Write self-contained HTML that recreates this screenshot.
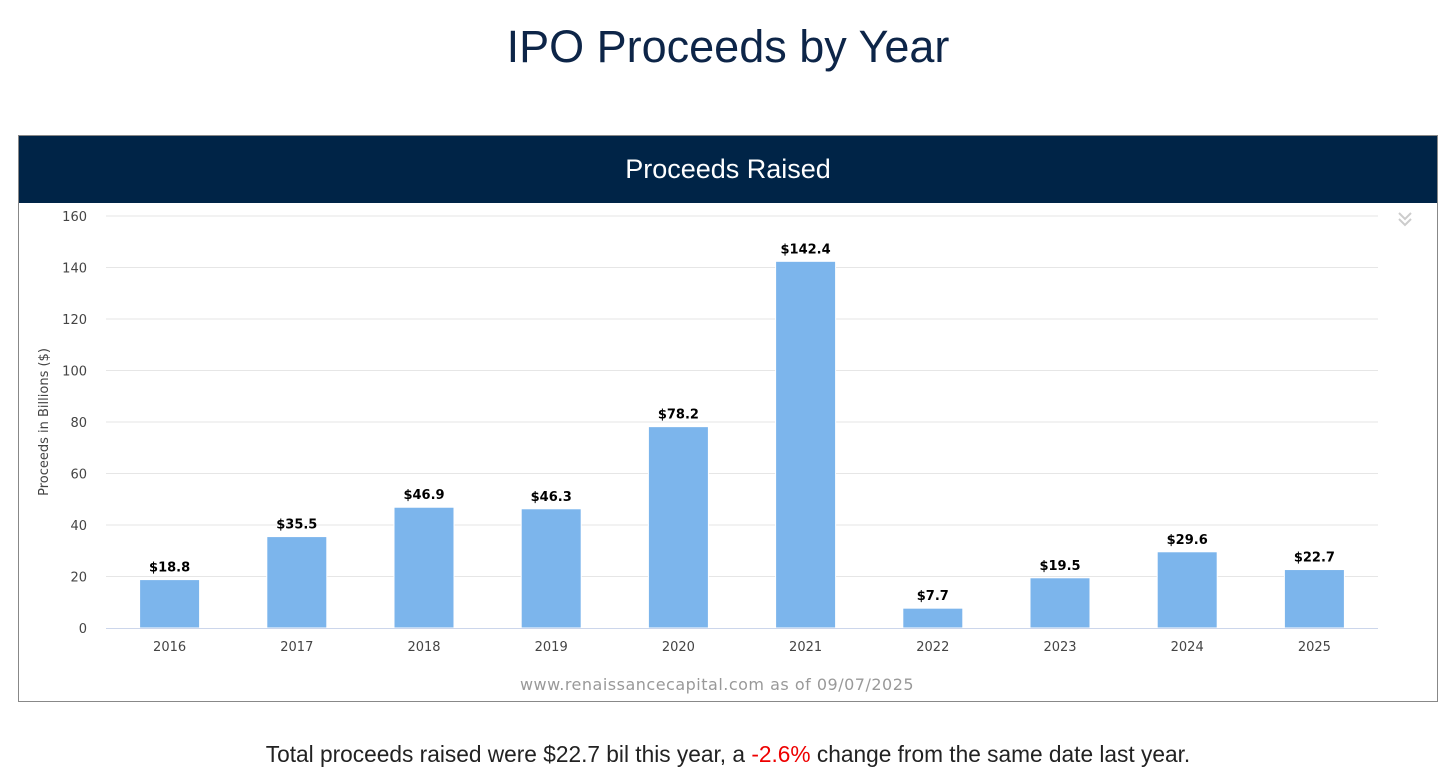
<!DOCTYPE html>
<html><head><meta charset="utf-8"><style>
body{margin:0;background:#fff;width:1456px;height:784px;overflow:hidden;font-family:"Liberation Sans","DejaVu Sans",sans-serif}
#title{position:absolute;top:21px;left:0;width:1456px;text-align:center;font-size:45px;color:#0d2548}
#box{position:absolute;left:18px;top:135px;width:1420px;height:567px;border:1px solid #888;box-sizing:border-box}
#hdr{position:absolute;left:0;top:0;width:100%;height:67px;background:#002447;color:#fff;font-size:27px;text-align:center;line-height:67px}
#foot{position:absolute;top:741px;left:0;width:1456px;text-align:center;font-size:22.7px;color:#222}
</style></head><body>
<div id="title">IPO Proceeds by Year</div>
<div id="box">
<div id="hdr">Proceeds Raised</div>
</div>
<svg id="chart" width="1456" height="784" style="position:absolute;left:0;top:0;font-family:'DejaVu Sans',sans-serif"></svg>
<div id="foot">Total proceeds raised were $22.7 bil this year, a <span style="color:#e00">-2.6%</span> change from the same date last year.</div>
<script>
const categories=["2016","2017","2018","2019","2020","2021","2022","2023","2024","2025"];
const values=[18.8,35.5,46.9,46.3,78.2,142.4,7.7,19.5,29.6,22.7];
const valueLabels=["$18.8","$35.5","$46.9","$46.3","$78.2","$142.4","$7.7","$19.5","$29.6","$22.7"];
const yTicks=[0,20,40,60,80,100,120,140,160];
const NS="http://www.w3.org/2000/svg";
const svg=document.getElementById('chart');
const X0=106,X1=1378,Y0=628,Y1=216,YMAX=160;
const bw=(X1-X0)/categories.length;
const y=v=>Y0-(v/YMAX)*(Y0-Y1);
const xc=i=>X0+bw*(i+0.5);
function mk(tag,attrs,text){const e=document.createElementNS(NS,tag);for(const k in attrs)e.setAttribute(k,attrs[k]);if(text!==undefined)e.textContent=text;svg.appendChild(e);return e;}
yTicks.forEach(t=>{
 if(t>0){const g=mk('line',{x1:X0,x2:X1,y1:y(t),y2:y(t),stroke:'#e6e6e6','stroke-width':1});
 
 }
 const l=mk('text',{x:87,y:y(t)+5,'text-anchor':'end','font-size':13,fill:'#444'},String(t));
 
 
});
const yt=mk('text',{x:48,y:422,'text-anchor':'middle','font-size':13,fill:'#444',transform:'rotate(-90 48 422)'},'Proceeds in Billions ($)');


categories.forEach((c,i)=>{
 const r=mk('rect',{x:xc(i)-30,y:y(values[i]),width:60,height:Y0-y(values[i]),fill:'#7cb5ec',stroke:'#fff','stroke-width':1});
 
 
 const v=mk('text',{x:xc(i),y:y(values[i])-8,'text-anchor':'middle','font-size':13,'font-weight':'bold',fill:'#000'},valueLabels[i]);
 
 
 const xl=mk('text',{x:xc(i),y:651,'text-anchor':'middle','font-size':13,fill:'#444'},c);
 
 
});
const ax=mk('line',{x1:X0,x2:X1,y1:Y0+0.5,y2:Y0+0.5,stroke:'#ccd6eb','stroke-width':1});


const cr=mk('text',{x:717,y:690,'text-anchor':'middle','font-size':16,'letter-spacing':'0.5',fill:'#999'},'www.renaissancecapital.com as of 09/07/2025');


const ic=mk('path',{d:'M1399 213 l6 6 l6 -6 M1399 219 l6 6 l6 -6',stroke:'#ccc','stroke-width':2,fill:'none'});


</script>
</body></html>
